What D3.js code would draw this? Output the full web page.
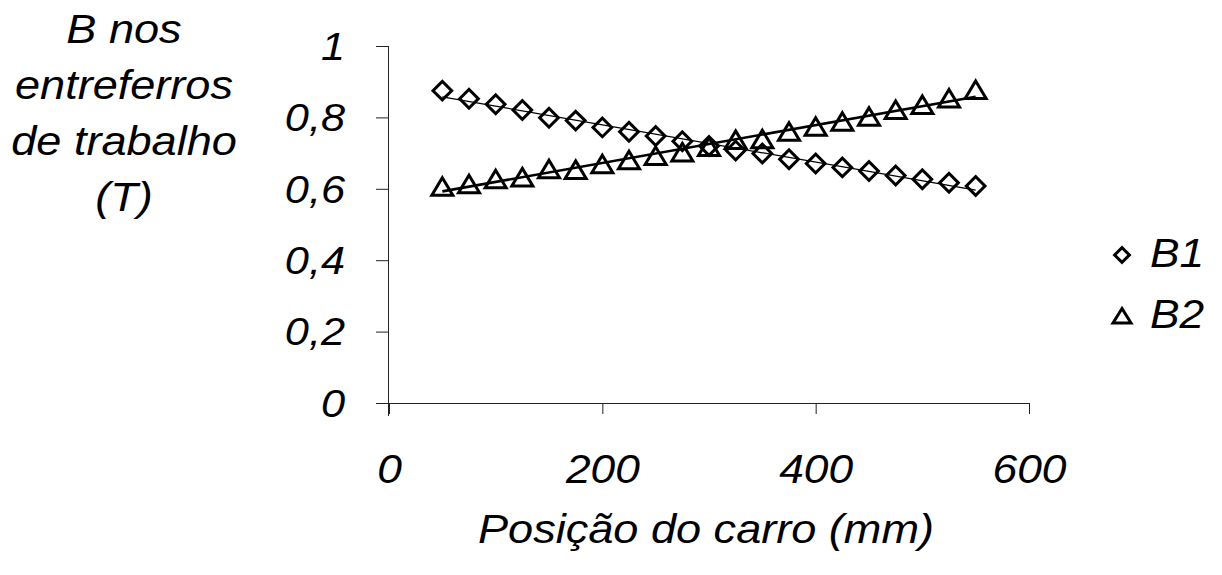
<!DOCTYPE html>
<html>
<head>
<meta charset="utf-8">
<script src="https://cdn.jsdelivr.net/npm/d3@7"></script>
<style>
  body { margin: 0; background: #fff; }
  svg { display: block; }
  text { font-family: "Liberation Sans", Arial, sans-serif; font-style: italic; fill: #000; }
</style>
</head>
<body>
<svg class="svg-main" width="1222" height="575"></svg>
<script>
// posição do carro (mm)
const positions = [50, 75, 100, 125, 150, 175, 200, 225, 250, 275, 300,
  325, 350, 375, 400, 425, 450, 475, 500, 525, 550];
const b1 = [0.875, 0.852, 0.837, 0.821, 0.799, 0.791, 0.772, 0.760, 0.748, 0.733, 0.720,
  0.707, 0.699, 0.683, 0.671, 0.660, 0.650, 0.637, 0.627, 0.617, 0.608];
const b2 = [0.606, 0.613, 0.627, 0.632, 0.655, 0.653, 0.669, 0.680, 0.692, 0.702, 0.717,
  0.737, 0.739, 0.760, 0.774, 0.788, 0.802, 0.821, 0.835, 0.853, 0.877];
const xTicks = [0, 200, 400, 600];
const yTicks = [0, 0.2, 0.4, 0.6, 0.8, 1];
const yTitle = ["B nos", "entreferros", "de trabalho", "(T)"];
const xTitle = "Posição do carro (mm)";
const seriesNames = ["B1", "B2"];

const svg = d3.select(".svg-main");

const x = d3.scaleLinear().domain([0, 600]).range([389, 1029]);
const y = d3.scaleLinear().domain([0, 1]).range([403, 46]);

const fmt = d => String(d).replace(".", ",");

// axes
const xAxis = svg.append("g")
  .attr("transform", `translate(0,${y(0)})`)
  .call(d3.axisBottom(x).tickValues(xTicks).tickSize(11).tickSizeOuter(0).tickFormat(fmt));
xAxis.select(".domain").attr("stroke", "#222").attr("d", `M${x(0) - 13},0.5H${x(600)}`);
xAxis.selectAll(".tick line").attr("stroke", "#222");
xAxis.selectAll(".tick text")
  .attr("y", 80).attr("dy", 0)
  .attr("font-size", 41)
  .attr("font-family", null)
  .attr("transform", "scale(1.08,1)");

const yAxis = svg.append("g")
  .attr("transform", `translate(${x(0)},0)`)
  .call(d3.axisLeft(y).tickValues(yTicks).tickSize(13).tickSizeOuter(0).tickFormat(fmt));
yAxis.select(".domain").attr("stroke", "#222").attr("d", `M-0.5,${y(1)}V${y(0) + 13}`);
yAxis.selectAll(".tick line").attr("stroke", "#222");
yAxis.selectAll(".tick text")
  .attr("x", -44 / 1.14).attr("dy", "0.35em")
  .attr("font-size", 38)
  .attr("font-family", null)
  .attr("transform", "scale(1.14,1)");

// linear trend lines
function fit(xs, ys) {
  const mx = d3.mean(xs), my = d3.mean(ys);
  const slope = d3.sum(xs, (v, i) => (v - mx) * (ys[i] - my)) / d3.sum(xs, v => (v - mx) * (v - mx));
  return v => my + slope * (v - mx);
}
const line = d3.line().x(d => x(d[0])).y(d => y(d[1]));
const ends = [positions[0], positions[positions.length - 1]];
const f1 = fit(positions, b1);
const f2 = fit(positions, b2);
svg.append("path")
  .attr("d", line(ends.map(v => [v, f1(v)])))
  .attr("stroke", "#000").attr("stroke-width", 1.2).attr("fill", "none");
svg.append("path")
  .attr("d", line(ends.map(v => [v, f2(v)])))
  .attr("stroke", "#000").attr("stroke-width", 2.6).attr("fill", "none");

// markers
const diamond = d3.symbol().type(d3.symbolSquare).size(175)();
const triangle = "M0,-9L10.5,8.5L-10.5,8.5Z";

svg.append("g").selectAll("path")
  .data(positions)
  .enter().append("path")
    .attr("d", diamond)
    .attr("transform", (d, i) => `translate(${x(d)},${y(b1[i])}) rotate(45)`)
    .attr("fill", "none").attr("stroke", "#000").attr("stroke-width", 3);

svg.append("g").selectAll("path")
  .data(positions)
  .enter().append("path")
    .attr("d", triangle)
    .attr("transform", (d, i) => `translate(${x(d)},${y(b2[i])})`)
    .attr("fill", "none").attr("stroke", "#000").attr("stroke-width", 3)
    .attr("stroke-linejoin", "miter");

// axis titles
svg.append("text")
  .attr("text-anchor", "middle")
  .attr("font-size", 41)
  .attr("transform", "translate(706,543) scale(1.1,1)")
  .text(xTitle);

svg.append("g").selectAll("text")
  .data(yTitle)
  .enter().append("text")
    .attr("text-anchor", "middle")
    .attr("font-size", 41)
    .attr("transform", (d, i) => `translate(124,${43 + i * 56}) scale(1.1,1)`)
    .text(d => d);

// legend
const legend = svg.append("g").attr("transform", "translate(1122,255)");
const legendShapes = [
  { d: d3.symbol().type(d3.symbolSquare).size(110)(), rot: 45 },
  { d: "M0,-7.5L9,7L-9,7Z", rot: 0 }
];
seriesNames.forEach((name, i) => {
  const g = legend.append("g").attr("transform", `translate(0,${i * 61})`);
  g.append("path")
    .attr("d", legendShapes[i].d)
    .attr("transform", `rotate(${legendShapes[i].rot})`)
    .attr("fill", "none").attr("stroke", "#000").attr("stroke-width", 3);
  g.append("text")
    .attr("font-size", 41)
    .attr("transform", "translate(28,12) scale(1.08,1)")
    .text(name);
});
</script>
</body>
</html>
